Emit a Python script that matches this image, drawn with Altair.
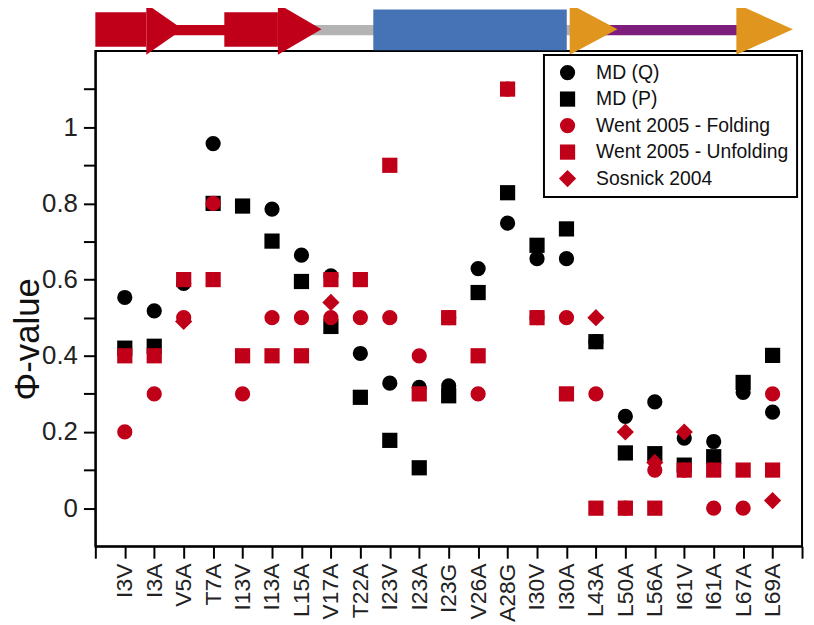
import altair as alt
import pandas as pd

# ---------------- data ----------------
categories = ["I3V", "I3A", "V5A", "T7A", "I13V", "I13A", "L15A", "V17A", "T22A",
              "I23V", "I23A", "I23G", "V26A", "A28G", "I30V", "I30A", "L43A",
              "L50A", "L56A", "I61V", "I61A", "L67A", "L69A"]

md_q = [0.553, 0.518, 0.59, 0.957, None, 0.785, 0.664, 0.61, 0.406, 0.328, 0.317,
        0.321, 0.629, 0.748, 0.655, 0.655, 0.437, 0.241, 0.279, 0.184, 0.175,
        0.304, 0.252]
md_p = [0.42, 0.425, None, 0.80, 0.793, 0.701, 0.595, 0.477, 0.291, 0.178, 0.106,
        0.295, 0.566, 0.828, 0.69, 0.733, 0.437, 0.145, 0.143, 0.113, 0.135,
        0.33, 0.401]
went_fold = [0.2, 0.3, 0.5, 0.8, 0.3, 0.5, 0.5, 0.5, 0.5, 0.5, 0.4, 0.5, 0.3, 1.1,
             0.5, 0.5, 0.3, 0.0, 0.1, 0.1, 0.0, 0.0, 0.3]
went_unfold = [0.4, 0.4, 0.6, 0.6, 0.4, 0.4, 0.4, 0.6, 0.6, 0.9, 0.3, 0.5, 0.4, 1.1,
               0.5, 0.3, 0.0, 0.0, 0.0, 0.1, 0.1, 0.1, 0.1]
sosnick = [None, None, 0.49, None, None, None, None, 0.54, None, None, None, None,
           None, None, None, None, 0.5, 0.2, 0.12, 0.2, None, None, 0.02]

series_names = ["MD (Q)", "MD (P)", "Went 2005 - Folding", "Went 2005 - Unfolding",
                "Sosnick 2004"]
series_colors = ["#000000", "#000000", "#C00018", "#C00018", "#C00018"]
series_shapes = ["circle", "square", "circle", "square",
                 "M-1.13,0L0,-1.13L1.13,0L0,1.13Z"]

y_ticks = [0, 0.1, 0.2, 0.3, 0.4, 0.5, 0.6, 0.7, 0.8, 0.9, 1.0, 1.1]
x_ticks = list(range(0, 25))

# secondary-structure diagram (residue-position units / phi units)
bar_start = [0.0, 2.5, 4.38, 7.0, 9.44, 17.3]
bar_end = [1.73, 4.45, 6.2, 16.3, 16.01, 21.9]
bar_lo = [1.211, 1.2414, 1.211, 1.2414, 1.202, 1.2414]
bar_hi = [1.302, 1.2685, 1.302, 1.2685, 1.309, 1.2685]
bar_color = ["#C00018", "#C00018", "#C00018", "#B3B3B3", "#4672B6", "#7E1E7C"]

head_base = [1.73, 6.2, 16.11, 21.77]
head_tip = [2.97, 7.68, 17.73, 23.69]
head_color = ["#C00018", "#C00018", "#E0951E", "#E0951E"]
head_top = 1.3237
head_bottom = 1.190
head_mid = 1.257

# ---------------- build tables ----------------
rows = []
draw_order = [(1, md_p), (0, md_q), (3, went_unfold), (2, went_fold), (4, sosnick)]
for si, vals in draw_order:
    for i, v in enumerate(vals):
        if v is not None:
            rows.append({"pos": i + 1, "phi": v, "series": series_names[si]})
pts = pd.DataFrame(rows)

bars = pd.DataFrame({"x0": bar_start, "x1": bar_end, "y0": bar_lo, "y1": bar_hi,
                     "col": bar_color})

hrows = []
for k in range(len(head_base)):
    hrows.append({"h": k, "x": head_base[k], "y": head_top, "y2": head_bottom,
                  "col": head_color[k]})
    hrows.append({"h": k, "x": head_tip[k], "y": head_mid, "y2": head_mid,
                  "col": head_color[k]})
heads = pd.DataFrame(hrows)

xscale = alt.Scale(domain=[0, 24], nice=False, zero=False)
yscale = alt.Scale(domain=[-0.1, 1.2], nice=False, zero=False)

label_js = "[" + ",".join("'%s'" % c for c in categories) + "]"
x_label_expr = ("(datum.value >= 1 && datum.value <= %d) ? %s[datum.value - 1] : ''"
                % (len(categories), label_js))
y_label_expr = "(round(datum.value * 10) % 2 == 0) ? format(datum.value, '~g') : ''"

FONT = "Liberation Sans"

x_axis = alt.Axis(values=x_ticks, labelExpr=x_label_expr, title="",
                  labelAngle=270, labelFontSize=23, labelPadding=5,
                  labelOverlap=False, labelBound=False, labelFlush=False,
                  tickSize=12, labelFont=FONT, labelColor="#222222")
y_axis = alt.Axis(values=y_ticks, labelExpr=y_label_expr, title="Φ-value",
                  labelFontSize=26, labelPadding=6, tickSize=12,
                  labelOverlap=False, labelFlush=False,
                  labelFont=FONT, labelColor="#222222",
                  titleFont=FONT, titleFontSize=35, titleFontWeight="normal",
                  titleColor="#111111", titleAngle=270, titleX=-68, titleY=290,
                  titleAlign="center", titleBaseline="middle")

legend = alt.Legend(title=None, orient="none", legendX=452, legendY=4,
                    strokeColor="black", fillColor="white",
                    padding=8, labelFontSize=19.5, labelFont=FONT,
                    labelColor="#111111", symbolSize=235,
                    symbolOffset=6, labelOffset=19, rowPadding=5.7,
                    symbolStrokeWidth=0, labelLimit=400)

points = alt.Chart(pts).mark_point(filled=True, opacity=1, size=235, strokeWidth=0).encode(
    x=alt.X("pos:Q", scale=xscale, axis=x_axis),
    y=alt.Y("phi:Q", scale=yscale, axis=y_axis),
    color=alt.Color("series:N",
                    scale=alt.Scale(domain=series_names, range=series_colors),
                    legend=legend),
    shape=alt.Shape("series:N",
                    scale=alt.Scale(domain=series_names, range=series_shapes),
                    legend=legend),
)

struct_bars = alt.Chart(bars).mark_rect(clip=False).encode(
    x=alt.X("x0:Q", scale=xscale, axis=x_axis),
    x2="x1:Q",
    y=alt.Y("y0:Q", scale=yscale, axis=y_axis),
    y2="y1:Q",
    fill=alt.Fill("col:N", scale=None),
)

struct_heads = alt.Chart(heads).mark_area(clip=False, opacity=1).encode(
    x=alt.X("x:Q", scale=xscale, axis=x_axis),
    y=alt.Y("y:Q", scale=yscale, stack=None, axis=y_axis),
    y2="y2:Q",
    detail="h:N",
    fill=alt.Fill("col:N", scale=None),
)

chart = alt.layer(points, struct_bars, struct_heads).properties(
    width=712, height=499,
    autosize=alt.AutoSizeParams(type="none"),
    padding={"left": 88, "top": 41, "right": 4, "bottom": 76},
).configure_view(
    stroke="black", strokeWidth=2
).configure_axis(
    domainColor="black", domainWidth=2, tickColor="black", tickWidth=2, grid=False,
    labelOverlap=False
).configure_legend(
    strokeWidth=2
)

chart.save("out.html", embed_options={"renderer": "svg", "actions": False})
